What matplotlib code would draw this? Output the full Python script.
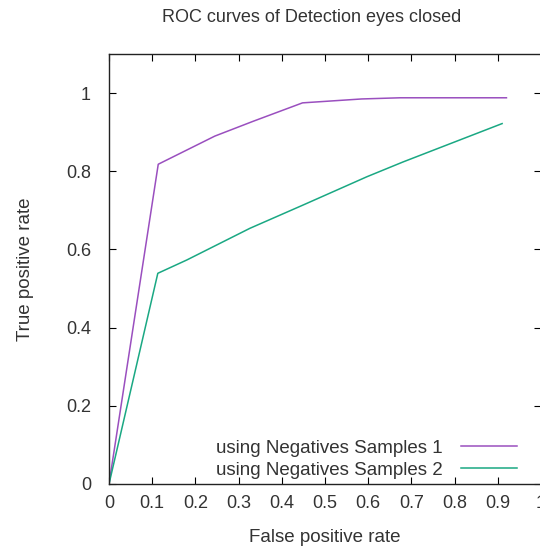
import numpy as np
import matplotlib.pyplot as plt

plt.rcParams['font.family'] = ['Liberation Sans', 'DejaVu Sans']

# ROC points
fpr_1 = [0.0, 0.114, 0.245, 0.334, 0.448, 0.585, 0.674, 0.92]
tpr_1 = [0.0, 0.818, 0.89, 0.928, 0.975, 0.985, 0.988, 0.988]

fpr_2 = [0.0, 0.113, 0.18, 0.326, 0.45, 0.597, 0.681, 0.91]
tpr_2 = [0.0, 0.539, 0.573, 0.654, 0.714, 0.786, 0.824, 0.922]

labels = ["using Negatives Samples 1", "using Negatives Samples 2"]
colors = ["#9a4fbf", "#1aa883"]

text_col = "#333333"
fs = 13.5

fig = plt.figure(figsize=(5.4, 5.49), dpi=100)
ax = fig.add_axes([109 / 540, 1 - 484 / 549, 432 / 540, 430 / 549])

ax.plot(fpr_1, tpr_1, color=colors[0], lw=1.1, label=labels[0])
ax.plot(fpr_2, tpr_2, color=colors[1], lw=1.1, label=labels[1])

ax.set_xlim(0, 1)
ax.set_ylim(0, 1.1)
ax.set_xticks(np.arange(0, 1.01, 0.1))
ax.set_xticklabels(["0", "0.1", "0.2", "0.3", "0.4", "0.5", "0.6", "0.7", "0.8", "0.9", "1"])
ax.set_yticks(np.arange(0, 1.01, 0.2))
ax.set_yticklabels(["0", "0.2", "0.4", "0.6", "0.8", "1"])
ax.tick_params(direction='in', top=True, right=True, length=5, width=0.8,
               labelsize=13, colors='black', labelcolor=text_col)
ax.tick_params(axis='x', pad=8)
ax.tick_params(axis='y', pad=13)
for s in ax.spines.values():
    s.set_linewidth(1.0)
    s.set_color('#222222')

ax.set_xlabel("False positive rate", fontsize=fs, color=text_col, labelpad=12)
ax.set_ylabel("True positive rate", fontsize=fs, color=text_col, labelpad=23)
fig.text(0.5 * (158 + 465) / 540, 1 - 18 / 549, "ROC curves of Detection eyes closed",
         ha='center', va='center', fontsize=13, color=text_col)

leg = ax.legend(loc='lower right', bbox_to_anchor=(0.944, 0.012), frameon=False,
                markerfirst=False, handlelength=3.0, handletextpad=0.95,
                labelspacing=0.25, fontsize=fs, borderpad=0.0, borderaxespad=0.0)
for t in leg.get_texts():
    t.set_color(text_col)

fig.savefig("out.png", dpi=100)
